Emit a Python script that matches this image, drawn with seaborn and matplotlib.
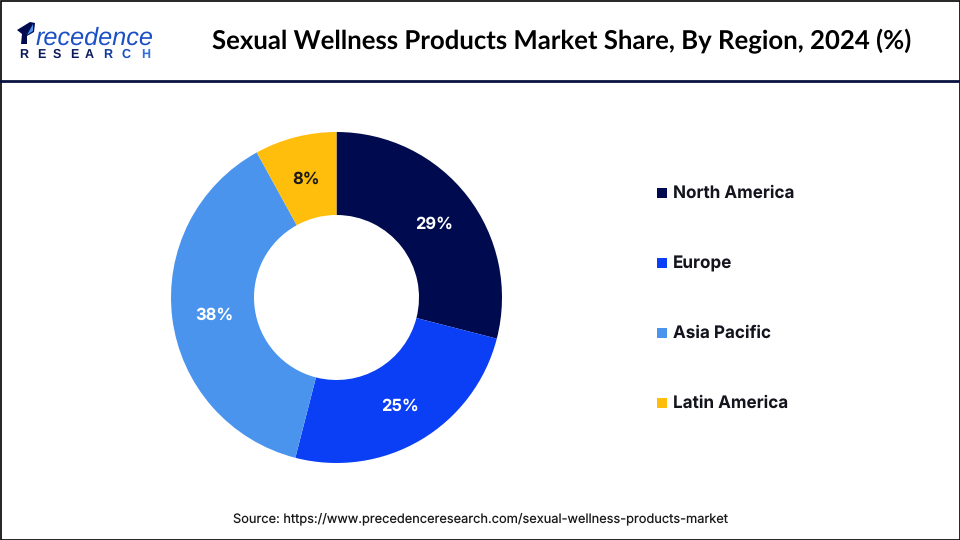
import matplotlib
matplotlib.use("Agg")
import matplotlib.pyplot as plt
import seaborn as sns
from matplotlib.patches import Rectangle, Polygon

sns.set_theme(style="white")
plt.rcParams['font.family'] = ['Liberation Sans', 'DejaVu Sans']
plt.rcParams['text.hinting'] = 'no_hinting'

regions = ["North America", "Europe", "Asia Pacific", "Latin America"]
shares = [29, 25, 38, 8]
share_labels = ["29%", "25%", "38%", "8%"]
colors = ["#000B4F", "#0A3FF5", "#4A94EE", "#FFBE0B"]
title = "Sexual Wellness Products Market Share, By Region, 2024 (%)"
source = "Source: https://www.precedenceresearch.com/sexual-wellness-products-market"

W, H = 960, 540
fig = plt.figure(figsize=(W/100, H/100), dpi=100, facecolor="white")

bg = fig.add_axes([0, 0, 1, 1])
bg.set_xlim(0, W); bg.set_ylim(H, 0); bg.axis("off")
bg.add_patch(Rectangle((0.5, 0.5), W-1, H-1, fill=False, ec="#000000", lw=1.2))
bg.plot([0, W], [81, 81], color="#0A1240", lw=2)

# logo
bg.add_patch(Polygon([[17, 30], [30, 22], [35, 23], [34, 32], [27, 36], [27, 44], [21, 44], [22, 34]],
                     closed=True, color="#000B4F", lw=0))
bg.add_patch(Polygon([[27, 35], [33, 24], [33, 31]], closed=True, color="#4A94EE", lw=0))
bg.text(36, 44.5, "recedence", fontsize=18.2, style="italic", color="#1B4FC4", ha="left", va="baseline")
for ch, x, c in zip("RESEARCH", [24, 41, 57, 74, 89, 108, 126, 146],
                    ["#0B1A5C"]*5 + ["#123A9C", "#1B4FC4", "#2F6FE0"]):
    bg.text(x, 58, ch, fontsize=9, fontweight="bold", color=c, ha="center", va="baseline")

bg.text(561.5, 41.5, title, fontsize=18.53, fontweight="bold", color="#000000", ha="center", va="center",
        family=["Lato", "DejaVu Sans"])
bg.text(480.5, 519, source, fontsize=9.22, color="#1A1A1A", ha="center", va="center",
        family=["Inter", "DejaVu Sans"])

# donut
R = 165.5
cx, cy = 336.5, 297.5
ax = fig.add_axes([(cx-R-2)/W, 1-(cy+R+2)/H, (2*R+4)/W, (2*R+4)/H])
ax.pie(shares, colors=colors, startangle=90, counterclock=False, radius=R,
       wedgeprops=dict(width=R-82.5, linewidth=0), center=(0, 0), frame=False)
ax.set_xlim(-(R+2), R+2); ax.set_ylim(-(R+2), R+2); ax.axis("off")

label_pos = [(434, 224), (400, 406.5), (214.5, 315.5), (306, 179.5)]
for text, (x, y) in zip(share_labels, label_pos):
    bg.text(x, y, text, fontsize=11.9, fontweight="bold", ha="center", va="center",
            color="#1A1A1A" if text == "8%" else "white", zorder=5,
            family=["Inter", "DejaVu Sans"])
bg.set_zorder(ax.get_zorder() + 1)
bg.patch.set_alpha(0)

# legend
for name, c, y in zip(regions, colors, [192.5, 262.5, 332.5, 402.5]):
    bg.add_patch(Rectangle((657, y-5), 10, 10, color=c, lw=0))
    bg.text(673, y + 1, name, fontsize=12.3, fontweight="bold", color="#14141E", ha="left", va="center",
            family=["Inter", "DejaVu Sans"])

fig.savefig("out.png", dpi=100, facecolor="white")
